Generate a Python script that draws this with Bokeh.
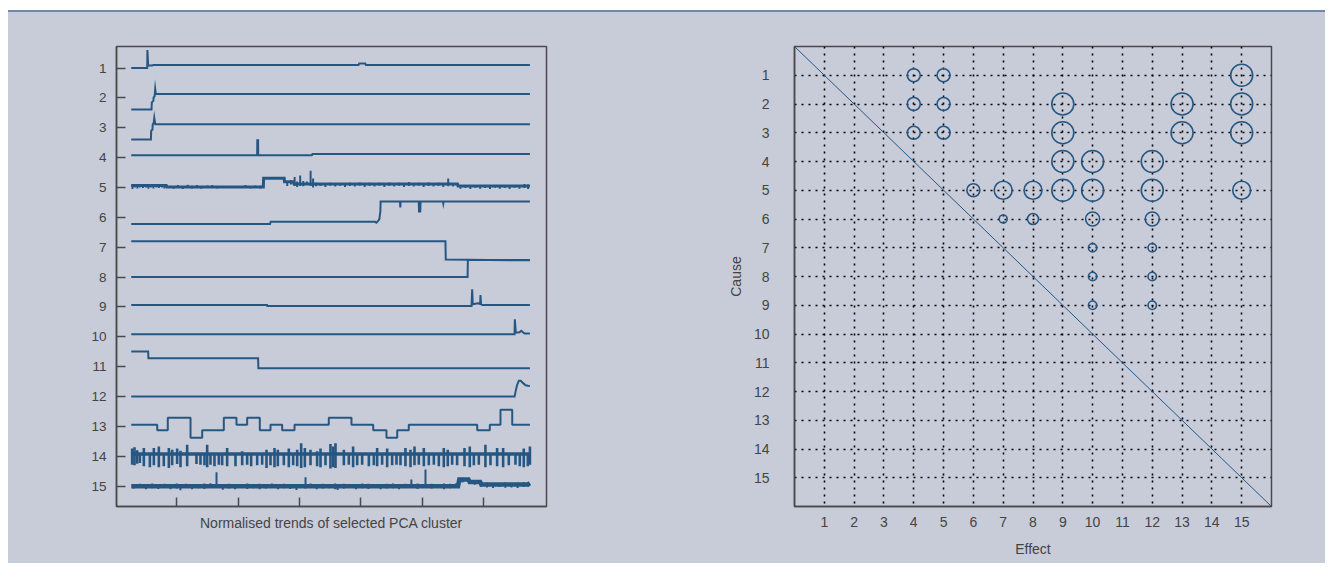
from bokeh.plotting import figure
from bokeh.models import Range1d, FixedTicker, Div
from bokeh.layouts import row, column
from bokeh.embed import file_html
from bokeh.resources import INLINE

BG = "#c8ccd9"
LINE = "#265783"
AX = "#4a4a4a"
TXT = "#444444"
FONT = "Liberation Sans"

# ---------------- Left panel: normalised trends (x = sample index, v = offset in row units, up positive)
series_labels = [str(i) for i in range(1, 16)]
time_ticks = [100, 200, 300, 400, 500, 600]

s1_x = [26, 52, 52.3, 53.5, 55, 60, 62, 66, 396, 397, 407, 408, 675]
s1_v = [0, 0, 0.6, 0.1, 0.08, 0.08, 0.1, 0.1, 0.1, 0.15, 0.15, 0.1, 0.1]
s2_x = [26, 59, 59.5, 62, 62.5, 64, 65, 66, 675]
s2_v = [-0.39, -0.39, -0.15, -0.1, 0.02, 0.05, 0.3, 0.13, 0.13]
s3_x = [26, 58, 58.5, 60.5, 61, 62.5, 63.5, 65, 675]
s3_v = [-0.39, -0.39, -0.1, -0.06, 0.12, 0.15, 0.33, 0.12, 0.12]
s4_x = [26, 231, 231.2, 232.5, 232.7, 320, 321, 675]
s4_v = [0.08, 0.08, 0.58, 0.58, 0.08, 0.08, 0.12, 0.12]
s5_x = [26, 83, 84, 241, 241.5, 275, 275.5, 290, 291, 557, 558, 675]
s5_v = [0.07, 0.07, 0.02, 0.02, 0.31, 0.31, 0.19, 0.19, 0.12, 0.12, 0.05, 0.05]
s5_noise = [(28, -0.05, 0.12), (32, 0, 0.1), (36, -0.03, 0.1), (40, 0, 0.12), (45, -0.02, 0.1),
            (50, 0, 0.11), (54, -0.04, 0.1), (58, 0, 0.12), (62, -0.03, 0.09), (67, 0, 0.1),
            (71, -0.02, 0.12), (76, 0, 0.1), (80, -0.03, 0.09), (95, -0.04, 0.05), (102, -0.02, 0.08),
            (110, -0.05, 0.04), (118, 0, 0.09), (125, -0.03, 0.06), (133, 0, 0.08), (140, -0.04, 0.04),
            (150, -0.02, 0.07), (158, 0, 0.08), (166, -0.03, 0.05), (175, 0, 0.04), (212, 0, 0.08),
            (220, -0.03, 0.05), (228, 0, 0.07), (236, -0.03, 0.06), (280, 0.05, 0.19), (286, 0.1, 0.25),
            (292, 0.05, 0.35), (296, 0.02, 0.2), (301, 0.05, 0.4), (306, 0.04, 0.22), (312, 0.08, 0.2),
            (318, 0.05, 0.56), (322, 0.0, 0.3), (327, 0.04, 0.16), (334, 0.05, 0.14), (342, 0.02, 0.14),
            (350, 0.06, 0.16), (358, 0.03, 0.14), (366, 0.06, 0.15), (374, 0.02, 0.14), (382, 0.05, 0.16),
            (390, 0.03, 0.15), (398, 0.06, 0.17), (406, 0.02, 0.14), (414, 0.05, 0.16), (422, 0.03, 0.15),
            (430, 0.06, 0.16), (438, 0.02, 0.15), (446, 0.05, 0.17), (454, 0.03, 0.15), (462, 0.06, 0.16),
            (470, 0.02, 0.15), (478, 0.05, 0.18), (486, 0.03, 0.15), (494, 0.06, 0.16), (502, 0.02, 0.15),
            (510, 0.05, 0.17), (518, 0.03, 0.15), (526, 0.05, 0.16), (534, 0.02, 0.14), (542, 0.04, 0.3),
            (550, 0.03, 0.15), (562, -0.04, 0.06), (570, -0.02, 0.07), (578, -0.05, 0.05), (586, -0.01, 0.06),
            (594, -0.04, 0.07), (602, -0.02, 0.05), (610, -0.05, 0.06), (618, -0.01, 0.07), (626, -0.04, 0.05),
            (634, -0.02, 0.06), (642, -0.05, 0.07), (650, -0.01, 0.05), (658, -0.04, 0.08), (666, -0.02, 0.12),
            (672, -0.05, 0.1)]
s6_x = [26, 252, 253, 423, 425, 428, 430, 431.5, 432, 463.5, 464, 464.5, 465, 494, 494.5, 496.5, 497,
        533.5, 534, 534.5, 675]
s6_v = [-0.22, -0.22, -0.15, -0.15, -0.18, -0.12, -0.05, 0.2, 0.53, 0.53, 0.33, 0.53, 0.53, 0.53, 0.2,
        0.2, 0.53, 0.53, 0.47, 0.53, 0.53]
s7_x = [26, 537.5, 538, 675]
s7_v = [0.2, 0.2, -0.41, -0.44]
s8_x = [26, 573.5, 574, 675]
s8_v = [0, 0, 0.57, 0.57]
s9_x = [26, 247, 247.5, 580, 581, 582, 590, 594, 594.5, 595.5, 598, 675]
s9_v = [0.07, 0.07, 0.03, 0.03, 0.59, 0.09, 0.12, 0.1, 0.4, 0.09, 0.07, 0.07]
s10_x = [26, 650, 650.5, 652, 658, 661, 666, 675]
s10_v = [0.09, 0.09, 0.59, 0.14, 0.15, 0.2, 0.11, 0.11]
s11_x = [26, 53.5, 54, 232.5, 233, 675]
s11_v = [0.51, 0.51, 0.28, 0.28, -0.05, -0.05]
s12_x = [26, 650, 652, 654, 657, 660, 664, 668, 672, 675]
s12_v = [0, 0, 0.2, 0.38, 0.53, 0.53, 0.45, 0.38, 0.36, 0.35]
s13_edges = [26, 68.3, 85.5, 122.5, 141.5, 176.7, 197.3, 214.7, 235.3, 252.7, 271.7, 291.8, 347.6,
             384.5, 419.9, 441.5, 459, 477.8, 589.2, 609.7, 627.1, 646.2, 675]
s13_levels = [0.06, -0.13, 0.29, -0.38, -0.13, 0.29, 0.06, 0.29, -0.13, 0.06, -0.13, 0.06, 0.29,
              0.06, -0.13, -0.38, -0.13, 0.06, -0.13, 0.06, 0.56, 0.06, 0.06]
s14_x = [26, 675]
s14_v = [0.08, 0.08]
s14_spikes = [(27.5, -0.28, 0.26), (31.3, -0.3, 0.3), (35.6, -0.25, 0.2), (40, -0.22, 0.08), (46.5, -0.33, 0.28),
              (56.3, -0.37, 0.08), (62.8, -0.3, 0.28), (70.9, -0.37, 0.33), (79, -0.33, 0.08), (87.2, -0.39, 0.28),
              (92.6, -0.3, 0.22), (100.7, -0.26, 0.26), (106.2, -0.37, 0.19), (117, -0.33, 0.39), (132.2, -0.26, 0.08),
              (138.7, -0.28, 0.08), (145.2, -0.3, 0.08), (149.6, -0.37, 0.39), (155, -0.28, 0.08), (161.5, -0.33, 0.08),
              (168.6, -0.28, 0.08), (174, -0.3, 0.08), (182.1, -0.33, 0.28), (195.7, -0.33, 0.08), (206.6, -0.3, 0.17),
              (214.7, -0.28, 0.08), (221.2, -0.33, 0.08), (231, -0.3, 0.08), (239.1, -0.28, 0.08), (246.2, -0.39, 0.22),
              (252.7, -0.3, 0.08), (259.2, -0.37, 0.28), (264.6, -0.33, 0.22), (274.4, -0.3, 0.08), (282.5, -0.37, 0.26),
              (289.6, -0.3, 0.08), (296.1, -0.33, 0.22), (302.6, -0.39, 0.44), (308.6, -0.37, 0.28), (317.8, -0.3, 0.22),
              (328.6, -0.33, 0.17), (334.1, -0.37, 0.26), (342.2, -0.3, 0.08), (350.3, -0.41, 0.41), (354.7, -0.37, 0.33),
              (358.5, -0.39, 0.44), (372.1, -0.3, 0.22), (380.2, -0.28, 0.08), (387.2, -0.37, 0.33), (393.8, -0.3, 0.08),
              (401.9, -0.28, 0.08), (412.8, -0.33, 0.08), (420.9, -0.3, 0.08), (426.3, -0.33, 0.28), (434.4, -0.28, 0.08),
              (442.6, -0.37, 0.26), (450.7, -0.3, 0.08), (457.8, -0.28, 0.08), (464.3, -0.3, 0.08), (472.4, -0.33, 0.28),
              (480.6, -0.37, 0.22), (487.1, -0.3, 0.33), (494.1, -0.28, 0.08), (502.3, -0.33, 0.28), (510.4, -0.3, 0.08),
              (518.6, -0.28, 0.08), (526.7, -0.33, 0.08), (534.8, -0.37, 0.28), (541.3, -0.33, 0.22), (548.4, -0.28, 0.08),
              (556.5, -0.3, 0.08), (568.5, -0.33, 0.28), (577.1, -0.37, 0.33), (583.7, -0.3, 0.08), (591.8, -0.28, 0.08),
              (602.6, -0.37, 0.39), (610.8, -0.3, 0.08), (621.6, -0.33, 0.28), (631.4, -0.37, 0.28), (640.6, -0.3, 0.08),
              (651.5, -0.28, 0.08), (658.5, -0.33, 0.08), (665, -0.37, 0.26), (671.6, -0.33, 0.08), (675, -0.28, 0.33)]
s15_x = [26, 558, 560, 575, 577, 594, 596, 672, 675]
s15_v = [0, 0, 0.22, 0.22, 0.14, 0.14, 0.06, 0.06, 0.1]
s15_noise = [(30, -0.08, 0.07), (40, -0.06, 0.08), (50, -0.1, 0.06), (60, -0.07, 0.09), (70, -0.09, 0.07),
             (80, -0.05, 0.08), (90, -0.1, 0.06), (100, -0.08, 0.09), (106, -0.14, 0.07), (115, -0.06, 0.08),
             (125, -0.1, 0.06), (135, -0.07, 0.07), (145, -0.09, 0.09), (155, -0.06, 0.1), (164.8, -0.05, 0.47),
             (175, -0.12, 0.07), (185, -0.08, 0.08), (195, -0.1, 0.06), (205, -0.06, 0.07), (215, -0.09, 0.09),
             (225, -0.07, 0.06), (235, -0.1, 0.08), (245, -0.08, 0.07), (255, -0.06, 0.09), (265, -0.1, 0.06),
             (275, -0.07, 0.08), (285, -0.09, 0.07), (295, -0.13, 0.06), (309.7, -0.08, 0.3), (318, -0.06, 0.09),
             (328, -0.1, 0.07), (338, -0.08, 0.08), (348, -0.07, 0.06), (358, -0.1, 0.09), (362, -0.13, 0.07),
             (372, -0.08, 0.08), (382, -0.06, 0.06), (392, -0.1, 0.07), (402, -0.07, 0.09), (412, -0.09, 0.08),
             (422, -0.06, 0.06), (432, -0.1, 0.07), (442, -0.08, 0.08), (452, -0.07, 0.09), (462, -0.1, 0.07),
             (472, -0.06, 0.08), (482, -0.05, 0.22), (492, -0.09, 0.09), (505, -0.05, 0.56), (515, -0.08, 0.08),
             (525, -0.06, 0.07), (535, -0.1, 0.09), (545, -0.07, 0.08), (555, -0.05, 0.1), (565, 0.12, 0.28),
             (575, 0.14, 0.24), (585, 0.05, 0.2), (595, -0.02, 0.14), (605, -0.04, 0.12), (615, -0.06, 0.1),
             (625, -0.03, 0.11), (635, -0.05, 0.12), (645, -0.04, 0.1), (655, -0.06, 0.12), (665, -0.03, 0.13),
             (672, -0.02, 0.14)]

# ---------------- Right panel: cause / effect matrix
matrix_labels = [str(i) for i in range(1, 16)]
cause = [1, 1, 1, 2, 2, 2, 2, 2, 3, 3, 3, 3, 3, 4, 4, 4, 5, 5, 5, 5, 5, 5, 5, 6, 6, 6, 6, 7, 7, 8, 8, 9, 9]
effect = [4, 5, 15, 4, 5, 9, 13, 15, 4, 5, 9, 13, 15, 9, 10, 12, 6, 7, 8, 9, 10, 12, 15, 7, 8, 10, 12,
          10, 12, 10, 12, 10, 12]
strength = [0.55, 0.55, 1.0, 0.55, 0.55, 1.0, 1.0, 1.0, 0.55, 0.55, 1.0, 1.0, 1.0, 1.0, 1.0, 1.0,
            0.55, 0.8, 0.8, 1.0, 1.0, 1.0, 0.8, 0.3, 0.45, 0.6, 0.6, 0.32, 0.32, 0.32, 0.32, 0.32, 0.32]

# ====================================================================
H = 551
p1 = figure(width=640, height=H, x_range=Range1d(2, 702), y_range=Range1d(15.68, 0.28),
            output_backend="svg", toolbar_location=None,
            min_border_left=108, min_border_right=102, min_border_top=34, min_border_bottom=55,
            background_fill_color=BG, border_fill_color=BG,
            outline_line_color=AX, outline_line_width=1.5)
p1.grid.visible = False
for ax in (p1.xaxis[0], p1.yaxis[0]):
    ax.axis_line_color = AX
    ax.axis_line_width = 1.5
    ax.major_tick_line_color = AX
    ax.major_tick_line_width = 1.5
    ax.major_tick_in = 9
    ax.major_tick_out = 0
    ax.minor_tick_line_color = None
p1.yaxis.ticker = FixedTicker(ticks=list(range(1, len(series_labels) + 1)))
p1.yaxis.major_label_overrides = {i + 1: lab for i, lab in enumerate(series_labels)}
p1.yaxis.major_label_standoff = 10
p1.yaxis.major_label_text_font = FONT
p1.yaxis.major_label_text_font_size = "13.5px"
p1.yaxis.major_label_text_color = TXT
p1.xaxis.ticker = FixedTicker(ticks=time_ticks)
p1.xaxis.major_label_overrides = {t: "" for t in time_ticks}
p1.xaxis.major_label_standoff = 0
p1.xaxis.axis_label = "Normalised trends of selected PCA cluster"
p1.xaxis.axis_label_standoff = 8
p1.xaxis.axis_label_text_font = FONT
p1.xaxis.axis_label_text_font_size = "14px"
p1.xaxis.axis_label_text_font_style = "normal"
p1.xaxis.axis_label_text_color = TXT

lines = [(s1_x, s1_v), (s2_x, s2_v), (s3_x, s3_v), (s4_x, s4_v), (s5_x, s5_v), (s6_x, s6_v),
         (s7_x, s7_v), (s8_x, s8_v), (s9_x, s9_v), (s10_x, s10_v), (s11_x, s11_v), (s12_x, s12_v),
         None, (s14_x, s14_v), (s15_x, s15_v)]
widths = [2, 2, 2, 2, 3, 2, 2, 2, 2, 2, 2, 2, 2, 3.5, 4.5]
for i, sv in enumerate(lines):
    if sv is None:
        continue
    xs, vs = sv
    base = i + 1
    p1.line(xs, [base - v for v in vs], line_color=LINE, line_width=widths[i], line_join="miter")

p1.step(s13_edges, [13 - v for v in s13_levels], mode="after", line_color=LINE, line_width=2)

for base, pts, w in ((5, s5_noise, 2), (14, s14_spikes, 2.6), (15, s15_noise, 2)):
    xs = [p[0] for p in pts]
    p1.segment(x0=xs, y0=[base - p[1] for p in pts], x1=xs, y1=[base - p[2] for p in pts],
               line_color=LINE, line_width=w)

# ====================================================================
n = len(matrix_labels)
p2 = figure(width=677, height=H, x_range=Range1d(0, n + 1), y_range=Range1d(n + 1, 0),
            output_backend="svg", toolbar_location=None,
            min_border_left=146, min_border_right=54, min_border_top=34, min_border_bottom=57,
            background_fill_color=BG, border_fill_color=BG,
            outline_line_color=AX, outline_line_width=1.5)
ticks = list(range(1, n + 1))
for ax in (p2.xaxis[0], p2.yaxis[0]):
    ax.ticker = FixedTicker(ticks=ticks)
    ax.major_label_overrides = {i + 1: lab for i, lab in enumerate(matrix_labels)}
    ax.axis_line_color = AX
    ax.axis_line_width = 1.5
    ax.major_tick_line_color = None
    ax.minor_tick_line_color = None
    ax.major_label_text_font = FONT
    ax.major_label_text_font_size = "14px"
    ax.major_label_text_color = TXT
    ax.axis_label_text_font = FONT
    ax.axis_label_text_font_size = "14px"
    ax.axis_label_text_font_style = "normal"
    ax.axis_label_text_color = TXT
p2.xaxis.major_label_standoff = 4
p2.yaxis.major_label_standoff = 19
p2.xaxis.axis_label = "Effect"
p2.yaxis.axis_label = "Cause"
p2.xaxis.axis_label_standoff = 11
p2.yaxis.axis_label_standoff = 7
p2.grid.grid_line_color = "black"
p2.grid.grid_line_dash = "2 5"
p2.grid.grid_line_width = 1.6

p2.line([0, n + 1], [0, n + 1], line_color=LINE, line_width=1)
p2.scatter(x=effect, y=cause, size=[2 + 20 * s for s in strength], marker="circle",
           fill_color=None, line_color=LINE, line_width=1.6)

top = Div(text="", width=1317, height=12, margin=(0, 0, 0, 8),
          styles={"border-bottom": "2px solid #6f87a8", "box-sizing": "border-box"})
left_pad = Div(text="", width=8, height=H, margin=0, styles={"background-color": "white"})
body = row(left_pad, p1, p2, spacing=0, styles={"background-color": BG})
layout = column(top, body, spacing=0)

open("out.html", "w").write(file_html(layout, INLINE, title="chart"))
